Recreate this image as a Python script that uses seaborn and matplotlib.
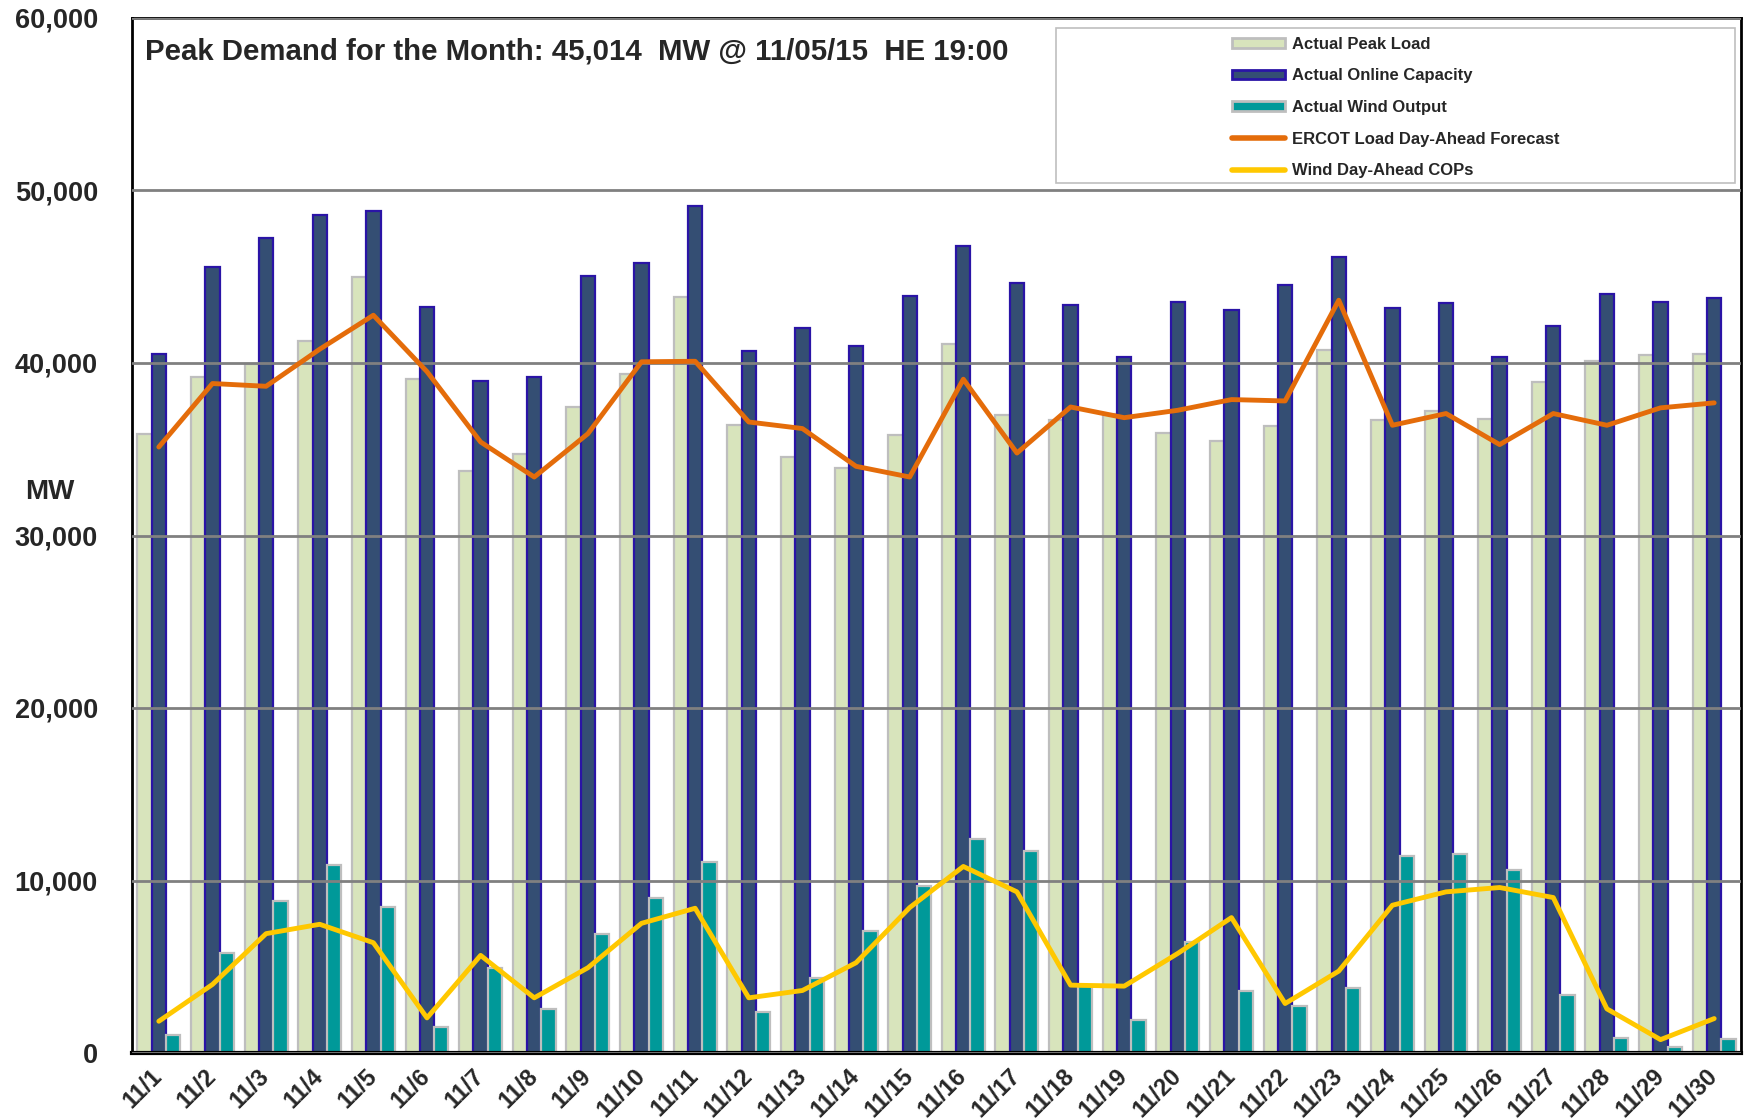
import numpy as np
import pandas as pd
import matplotlib
matplotlib.use("Agg")
import matplotlib.pyplot as plt
import matplotlib.transforms as mtransforms
import seaborn as sns
from matplotlib.patches import Patch, Rectangle
from matplotlib.lines import Line2D
from matplotlib.ticker import FuncFormatter, MultipleLocator, FixedLocator

days = ["11/1", "11/2", "11/3", "11/4", "11/5", "11/6", "11/7", "11/8", "11/9", "11/10",
        "11/11", "11/12", "11/13", "11/14", "11/15", "11/16", "11/17", "11/18", "11/19", "11/20",
        "11/21", "11/22", "11/23", "11/24", "11/25", "11/26", "11/27", "11/28", "11/29", "11/30"]

peak_load = [35900, 39160, 39930, 41250, 45014, 39100, 33740, 34710, 37450, 39390,
             43800, 36430, 34550, 33940, 35810, 41090, 37010, 36680, 37070, 35970,
             35480, 36350, 40740, 36680, 37220, 36760, 38920, 40120, 40470, 40550]
online_capacity = [40510, 45540, 47230, 48580, 48830, 43260, 38940, 39160, 45060, 45770,
                   49100, 40690, 42000, 40980, 43880, 46800, 44650, 43340, 40360, 43530,
                   43060, 44550, 46160, 43160, 43450, 40320, 42140, 43990, 43510, 43740]
wind_output = [1027, 5795, 8818, 10911, 8469, 1492, 4903, 2539, 6899, 8973,
               11047, 2403, 4322, 7074, 9690, 12403, 11725, 3900, 1899, 6434,
               3585, 2752, 3779, 11434, 11512, 10620, 3353, 872, 329, 814]
load_forecast = [35130, 38810, 38650, 40800, 42770, 39500, 35420, 33390, 35900, 40070,
                 40100, 36580, 36200, 34010, 33390, 39060, 34780, 37450, 36830, 37260,
                 37880, 37800, 43640, 36390, 37070, 35270, 37070, 36390, 37400, 37690]
wind_cops = [1841, 3973, 6919, 7461, 6395, 2035, 5659, 3198, 4942, 7519,
             8391, 3198, 3624, 5233, 8430, 10814, 9341, 3934, 3876, 5775,
             7849, 2868, 4748, 8566, 9341, 9593, 9012, 2558, 775, 1996]

series_names = ["Actual Peak Load", "Actual Online Capacity", "Actual Wind Output"]
line_names = ["ERCOT Load Day-Ahead Forecast", "Wind Day-Ahead COPs"]
title_text = "Peak Demand for the Month: 45,014  MW @ 11/05/15  HE 19:00"

bar_faces = ["#D8E4BC", "#344E73", "#009999"]
bar_edges = ["#BEBEBE", "#2A14A6", "#BEBEBE"]
line_colors = ["#E46C0A", "#FFC800"]

sns.set_theme(style="white")
plt.rcParams['font.family'] = ['Liberation Sans', 'DejaVu Sans']

df = pd.DataFrame({"day": days,
                   series_names[0]: peak_load,
                   series_names[1]: online_capacity,
                   series_names[2]: wind_output})
long = df.melt(id_vars="day", var_name="series", value_name="MW")

fig = plt.figure(figsize=(17.52, 11.19), dpi=100)
ax = fig.add_axes([132/1752, 1-1053/1119, 1609/1752, 1035/1119])

sns.barplot(data=long, x="day", y="MW", hue="series", hue_order=series_names,
            order=days, palette=bar_faces, saturation=1, width=0.8,
            errorbar=None, legend=False, ax=ax)
for cont, ec in zip(ax.containers, bar_edges):
    for b in cont:
        b.set_edgecolor(ec)
        b.set_linewidth(1.6)
        b.set_zorder(1)

xpos = np.arange(len(days))
sns.lineplot(x=xpos, y=load_forecast, color=line_colors[0], lw=3.5, ax=ax, zorder=4)
sns.lineplot(x=xpos, y=wind_cops, color=line_colors[1], lw=3.5, ax=ax, zorder=4)

ax.set_xlim(-0.5, len(days) - 0.5)
ax.set_ylim(0, 60000)
ax.set_xlabel("")
ax.set_ylabel("")

ax.set_axisbelow(False)
ax.yaxis.set_major_locator(MultipleLocator(10000))
ax.yaxis.set_minor_locator(MultipleLocator(5000))
ax.yaxis.set_major_formatter(FuncFormatter(lambda v, p: f"{v:,.0f}"))
ax.yaxis.grid(True, which="major", color="#808080", lw=2)
ax.xaxis.grid(False)

ax.set_xticks(xpos)
ax.set_xticklabels(days, rotation=45, ha="right", va="center", rotation_mode="anchor",
                   fontsize=17, fontweight="bold")
shift = mtransforms.ScaledTranslation(-5/100, 0, fig.dpi_scale_trans)
for lab in ax.get_xticklabels():
    lab.set_transform(lab.get_transform() + shift)
ax.xaxis.set_minor_locator(FixedLocator(np.arange(-0.5, len(days), 1.0)))
ax.tick_params(axis="x", which="major", length=0, pad=14)
ax.tick_params(axis="x", which="minor", length=7, width=1.5, color="black", direction="out")
ax.tick_params(axis="y", which="major", length=6, width=1.5, color="black", direction="out",
               labelsize=19.5, pad=18.5)
ax.tick_params(axis="y", which="minor", length=6, width=1.2, color="black", direction="out")
for lab in ax.get_yticklabels():
    lab.set_fontweight("bold")

for side in ["left", "top", "right"]:
    ax.spines[side].set_color("black")
    ax.spines[side].set_linewidth(2)
ax.spines["bottom"].set_color("black")
ax.spines["bottom"].set_linewidth(3)

fig.text(50/1752, 1-492/1119, "MW", ha="center", va="center", fontsize=20, fontweight="bold")
ax.text(0.0083, 0.968, title_text, transform=ax.transAxes, fontsize=21.2,
        fontweight="bold", ha="left", va="center", zorder=6)

box = Rectangle((0.5743, 0.841), 0.422, 0.149, transform=ax.transAxes,
                facecolor="white", edgecolor="#BFBFBF", lw=1.2, zorder=5)
ax.add_patch(box)

handles = [Patch(facecolor=bar_faces[i], edgecolor=bar_edges[i], lw=2) for i in range(3)]
handles += [Line2D([0], [0], color=line_colors[i], lw=4) for i in range(2)]
leg = ax.legend(handles, series_names + line_names, loc="upper left",
                bbox_to_anchor=(0.6787, 0.990), frameon=False, borderpad=0,
                handlelength=3.15, handleheight=0.5, handletextpad=0.4, labelspacing=1.0,
                prop={"family": ["Liberation Sans Narrow", "Liberation Sans"],
                      "weight": "bold", "size": 12})
leg.set_zorder(7)

fig.savefig("out.png", dpi=100)
